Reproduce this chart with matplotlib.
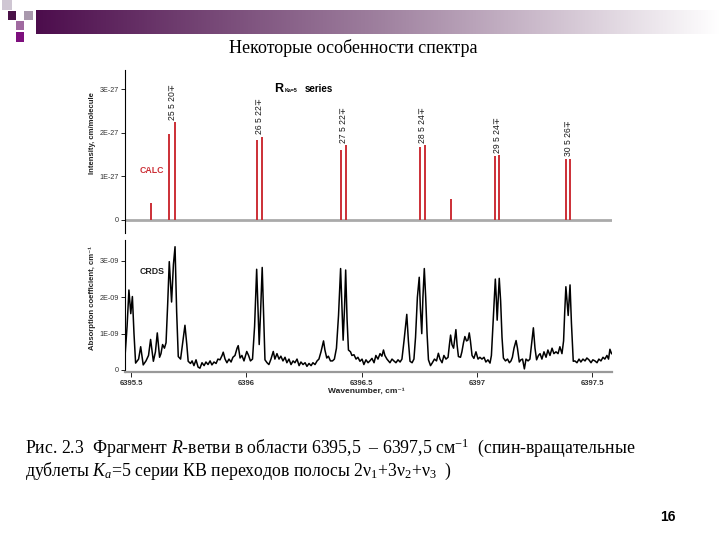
import numpy as np
import matplotlib
matplotlib.use("Agg")
import matplotlib.pyplot as plt
from matplotlib.patches import Rectangle

# ── Data ────────────────────────────────────────────────────────────────────
# CALC stick spectrum: wavenumber (cm-1) and intensity (units of 1E-27)
calc_wn = [6395.587, 6395.666, 6395.691, 6396.045, 6396.068, 6396.409, 6396.431,
           6396.753, 6396.774, 6396.888, 6397.079, 6397.096, 6397.386, 6397.405]
calc_int = [0.38, 1.97, 2.25, 1.83, 1.91, 1.60, 1.72,
            1.68, 1.72, 0.48, 1.48, 1.49, 1.40, 1.41]

# doublet assignments: (index of first line, index of second line, label)
doublet_first = [1, 3, 5, 7, 10, 12]
doublet_second = [2, 4, 6, 8, 11, 13]
doublet_labels = ["25 5 20", "26 5 22", "27 5 22", "28 5 24", "29 5 24", "30 5 26"]

# CRDS absorption spectrum: wavenumber (cm-1) and coefficient (units of 1E-09)
crds_wn = [
    6395.474, 6395.483, 6395.491, 6395.499, 6395.506, 6395.513, 6395.520, 6395.533,
    6395.542, 6395.553, 6395.565, 6395.576, 6395.585, 6395.597, 6395.606, 6395.614,
    6395.624, 6395.630, 6395.637, 6395.645, 6395.652, 6395.659, 6395.666, 6395.676,
    6395.684, 6395.691, 6395.698, 6395.705, 6395.715, 6395.725, 6395.734, 6395.742,
    6395.748, 6395.758, 6395.765, 6395.773, 6395.782, 6395.791, 6395.799, 6395.808,
    6395.817, 6395.825, 6395.834, 6395.843, 6395.851, 6395.860, 6395.869, 6395.877,
    6395.886, 6395.895, 6395.900, 6395.908, 6395.916, 6395.925, 6395.934, 6395.942,
    6395.951, 6395.960, 6395.965, 6395.973, 6395.981, 6395.990, 6396.002, 6396.010,
    6396.018, 6396.027, 6396.036, 6396.045, 6396.051, 6396.056, 6396.062, 6396.069,
    6396.076, 6396.081, 6396.090, 6396.098, 6396.107, 6396.117, 6396.124, 6396.133,
    6396.142, 6396.150, 6396.159, 6396.168, 6396.176, 6396.185, 6396.194, 6396.203,
    6396.211, 6396.220, 6396.229, 6396.237, 6396.246, 6396.255, 6396.263, 6396.272,
    6396.281, 6396.289, 6396.298, 6396.307, 6396.315, 6396.324, 6396.335, 6396.341,
    6396.349, 6396.356, 6396.365, 6396.374, 6396.382, 6396.391, 6396.400, 6396.409,
    6396.415, 6396.420, 6396.426, 6396.431, 6396.437, 6396.443, 6396.452, 6396.458,
    6396.467, 6396.476, 6396.484, 6396.493, 6396.502, 6396.510, 6396.519, 6396.528,
    6396.536, 6396.545, 6396.554, 6396.562, 6396.571, 6396.580, 6396.588, 6396.595,
    6396.601, 6396.610, 6396.623, 6396.632, 6396.640, 6396.649, 6396.658, 6396.667,
    6396.675, 6396.684, 6396.696, 6396.703, 6396.710, 6396.719, 6396.727, 6396.734,
    6396.742, 6396.750, 6396.755, 6396.761, 6396.766, 6396.772, 6396.778, 6396.784,
    6396.790, 6396.799, 6396.807, 6396.816, 6396.825, 6396.833, 6396.840, 6396.849,
    6396.857, 6396.866, 6396.875, 6396.881, 6396.886, 6396.892, 6396.899, 6396.905,
    6396.909, 6396.914, 6396.920, 6396.929, 6396.935, 6396.942, 6396.948, 6396.955,
    6396.961, 6396.967, 6396.972, 6396.979, 6396.987, 6396.996, 6397.005, 6397.013,
    6397.022, 6397.031, 6397.039, 6397.048, 6397.057, 6397.063, 6397.072, 6397.080,
    6397.084, 6397.088, 6397.093, 6397.097, 6397.103, 6397.109, 6397.115, 6397.124,
    6397.133, 6397.141, 6397.148, 6397.154, 6397.161, 6397.170, 6397.176, 6397.184,
    6397.191, 6397.198, 6397.206, 6397.213, 6397.222, 6397.230, 6397.237, 6397.245,
    6397.252, 6397.259, 6397.267, 6397.274, 6397.282, 6397.291, 6397.300, 6397.308,
    6397.317, 6397.326, 6397.334, 6397.343, 6397.352, 6397.360, 6397.369, 6397.376,
    6397.381, 6397.386, 6397.392, 6397.396, 6397.400, 6397.404, 6397.410, 6397.418,
    6397.425, 6397.434, 6397.443, 6397.451, 6397.460, 6397.469, 6397.477, 6397.486,
    6397.495, 6397.503, 6397.512, 6397.521, 6397.529, 6397.538, 6397.547, 6397.555,
    6397.564, 6397.571, 6397.577, 6397.584,
]
crds_abs = [
    0.37, 1.20, 2.20, 1.55, 2.02, 1.00, 0.19, 0.30,
    0.64, 0.14, 0.25, 0.40, 0.84, 0.24, 0.50, 1.02,
    0.35, 0.45, 0.70, 0.60, 0.75, 1.80, 2.98, 1.87,
    2.90, 3.39, 1.60, 0.37, 0.30, 0.80, 1.23, 0.70,
    0.24, 0.18, 0.25, 0.12, 0.28, 0.08, 0.05, 0.20,
    0.12, 0.22, 0.15, 0.25, 0.14, 0.22, 0.18, 0.30,
    0.28, 0.40, 0.49, 0.30, 0.20, 0.30, 0.22, 0.35,
    0.40, 0.60, 0.67, 0.33, 0.40, 0.25, 0.51, 0.40,
    0.25, 0.30, 1.20, 2.77, 1.60, 0.70, 1.60, 2.82,
    1.30, 0.28, 0.20, 0.15, 0.30, 0.51, 0.30, 0.45,
    0.30, 0.38, 0.25, 0.35, 0.20, 0.30, 0.15, 0.25,
    0.20, 0.30, 0.12, 0.22, 0.15, 0.20, 0.10, 0.18,
    0.12, 0.20, 0.15, 0.25, 0.30, 0.50, 0.80, 0.55,
    0.33, 0.38, 0.25, 0.25, 0.30, 0.60, 1.50, 2.79,
    1.70, 0.82, 1.70, 2.75, 1.40, 0.55, 0.50, 0.40,
    0.42, 0.30, 0.35, 0.24, 0.30, 0.15, 0.28, 0.20,
    0.25, 0.32, 0.20, 0.40, 0.30, 0.45, 0.38, 0.55,
    0.40, 0.30, 0.20, 0.30, 0.25, 0.20, 0.28, 0.22,
    0.30, 0.80, 1.53, 0.80, 0.24, 0.20, 0.30, 0.90,
    2.00, 2.55, 1.70, 1.00, 2.00, 2.79, 2.00, 1.00,
    0.28, 0.12, 0.20, 0.30, 0.25, 0.46, 0.30, 0.20,
    0.40, 0.30, 0.35, 0.70, 0.96, 0.70, 0.60, 0.90,
    1.11, 0.70, 0.37, 0.35, 0.50, 0.75, 0.92, 0.80,
    0.82, 1.02, 0.80, 0.40, 0.32, 0.50, 0.30, 0.35,
    0.30, 0.35, 0.22, 0.28, 0.19, 0.40, 1.50, 2.50,
    2.00, 1.37, 2.00, 2.52, 1.90, 0.90, 0.33, 0.25,
    0.30, 0.20, 0.25, 0.35, 0.60, 0.81, 0.60, 0.22,
    0.28, 0.30, 0.03, 0.30, 0.25, 0.30, 0.70, 1.16,
    0.60, 0.28, 0.40, 0.45, 0.30, 0.50, 0.35, 0.55,
    0.40, 0.60, 0.45, 0.50, 0.45, 0.64, 0.45, 0.80,
    1.60, 2.29, 1.80, 1.50, 1.90, 2.34, 1.30, 0.24,
    0.25, 0.20, 0.30, 0.22, 0.30, 0.25, 0.33, 0.28,
    0.20, 0.28, 0.25, 0.20, 0.30, 0.25, 0.35, 0.30,
    0.40, 0.30, 0.57, 0.45,
]

x_ticks = [6395.5, 6396, 6396.5, 6397, 6397.5]
x_tick_labels = ["6395.5", "6396", "6396.5", "6397", "6397.5"]
calc_ticks = [0, 1, 2, 3]
calc_tick_labels = ["0", "1E-27", "2E-27", "3E-27"]
crds_ticks = [0, 1, 2, 3]
crds_tick_labels = ["0", "1E-09", "2E-09", "3E-09"]

# ── Style ───────────────────────────────────────────────────────────────────
plt.rcParams["font.family"] = ["Liberation Sans", "DejaVu Sans"]
plt.rcParams["mathtext.fontset"] = "custom"
plt.rcParams["mathtext.rm"] = "Liberation Serif"
plt.rcParams["mathtext.it"] = "Liberation Serif:italic"

W, H = 720, 540
fig = plt.figure(figsize=(7.2, 5.4), dpi=100)
fig.patch.set_facecolor("white")

XLIM = (6395.474, 6397.586)
RED = "#cc2f36"
TICK_COL = "#333333"

# ── Slide decoration: gradient banner + squares ─────────────────────────────
band = fig.add_axes([36 / W, 1 - 34 / H, 1 - 36 / W, 24 / H])
c0 = np.array([0.30, 0.05, 0.30])
c1 = np.array([0.62, 0.50, 0.62])
c2 = np.array([1.0, 1.0, 1.0])
t = np.linspace(0, 1, 400)
grad = np.where(t[:, None] < 0.5,
                c0 + (c1 - c0) * (t[:, None] / 0.5),
                c1 + (c2 - c1) * ((t[:, None] - 0.5) / 0.5))
band.imshow(grad[None, :, :], aspect="auto", extent=(0, 1, 0, 1))
band.set_axis_off()

squares = [  # (x, y, w, h, colour) in pixels from top-left
    (2, 0, 10, 10, "#cfc6d3"),
    (8, 11, 8, 9, "#4a1248"),
    (24, 11, 9, 9, "#a999ad"),
    (16, 21, 8, 9, "#a06aa0"),
    (16, 32, 8, 10, "#7d0f7d"),
]
for sx, sy, sw, sh, sc in squares:
    fig.patches.append(Rectangle((sx / W, 1 - (sy + sh) / H), sw / W, sh / H,
                                 transform=fig.transFigure, color=sc, lw=0))

fig.text(353 / W, 1 - 48 / H, "Некоторые особенности спектра",
         ha="center", va="center", fontsize=13, family="Liberation Serif")

# ── Upper panel: CALC sticks ────────────────────────────────────────────────
ax1 = fig.add_axes([125 / W, 1 - 233 / H, 487 / W, 163 / H])
ax1.set_xlim(*XLIM)
ax1.set_ylim(-0.299, 3.448)
ax1.axhline(0, color="#aaaaaa", lw=2.0, zorder=1)
ax1.vlines(calc_wn, 0, calc_int, color=RED, lw=1.4, zorder=2)
for i, j, lab in zip(doublet_first, doublet_second, doublet_labels):
    xm = (calc_wn[i] + calc_wn[j]) / 2
    ym = max(calc_int[i], calc_int[j]) + 0.06
    ax1.text(xm, ym, lab + "∓", rotation=90, ha="center", va="bottom",
             fontsize=6.2, color="#1a1a1a", family=["Liberation Sans", "DejaVu Sans"])
for s in ["top", "right", "bottom"]:
    ax1.spines[s].set_visible(False)
ax1.spines["left"].set_linewidth(0.8)
ax1.set_xticks([])
ax1.set_yticks(calc_ticks)
ax1.set_yticklabels(calc_tick_labels)
ax1.tick_params(axis="y", length=3, width=0.6, labelsize=5.2, labelcolor=TICK_COL, pad=1.5)
ax1.text(0.03, 0.385, "CALC", transform=ax1.transAxes, color=RED,
         fontsize=6.3, fontweight="bold", va="center")
ax1.text(0.306, 0.886, "R", transform=ax1.transAxes, fontsize=9,
         fontweight="bold", va="center")
ax1.text(0.327, 0.872, "Ka=5", transform=ax1.transAxes, fontsize=3.8,
         fontweight="bold", va="center")
ax1.text(0.368, 0.886, "series", transform=ax1.transAxes, fontsize=7,
         fontweight="bold", va="center")

# ── Lower panel: CRDS spectrum ──────────────────────────────────────────────
ax2 = fig.add_axes([125 / W, 1 - 372 / H, 487 / W, 132 / H])
ax2.set_xlim(*XLIM)
ax2.set_ylim(-0.055, 3.575)
ax2.plot(crds_wn, crds_abs, color="black", lw=1.1)
for s in ["top", "right"]:
    ax2.spines[s].set_visible(False)
ax2.spines["left"].set_linewidth(0.8)
ax2.spines["bottom"].set_color("#999999")
ax2.spines["bottom"].set_linewidth(1.6)
ax2.set_xticks(x_ticks)
ax2.set_xticklabels(x_tick_labels, fontweight="bold")
ax2.set_yticks(crds_ticks)
ax2.set_yticklabels(crds_tick_labels)
ax2.tick_params(axis="y", length=3, width=0.6, labelsize=5.2, labelcolor=TICK_COL, pad=1.5)
ax2.tick_params(axis="x", length=3.5, width=0.6, labelsize=5.5, labelcolor=TICK_COL, pad=2)
ax2.text(0.03, 0.76, "CRDS", transform=ax2.transAxes, color="#222222",
         fontsize=6.3, fontweight="bold", va="center")

fig.text(92 / W, 1 - 133 / H, "Intensity, cm/molecule", rotation=90,
         ha="center", va="center", fontsize=5.6, fontweight="bold", color="#222222")
fig.text(92 / W, 1 - 298 / H, "Absorption coefficient, cm⁻¹", rotation=90,
         ha="center", va="center", fontsize=5.6, fontweight="bold", color="#222222")
fig.text(366 / W, 1 - 391 / H, "Wavenumber, cm⁻¹", ha="center", va="center",
         fontsize=6, fontweight="bold", color="#222222")

# ── Caption and slide number ────────────────────────────────────────────────
cap_kw = dict(fontsize=12.8, family="Liberation Serif", va="baseline", ha="left")
fig.text(25 / W, 1 - 453 / H,
         "Рис. 2.3  Фрагмент $R$-ветви в области 6395,5  – 6397,5 см$^{-1}$  (спин-вращательные",
         **cap_kw)
fig.text(25 / W, 1 - 476 / H,
         "дублеты $K_a$=5 серии КВ переходов полосы 2ν$_1$+3ν$_2$+ν$_3$  )",
         **cap_kw)
fig.text(668 / W, 1 - 517 / H, "16", ha="center", va="center",
         fontsize=10, fontweight="bold")

fig.savefig("out.png", dpi=100)
